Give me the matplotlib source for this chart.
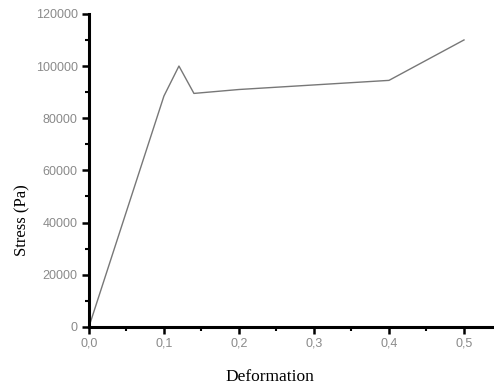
import numpy as np
import matplotlib
matplotlib.use("Agg")
import matplotlib.pyplot as plt
from matplotlib.ticker import MultipleLocator, FuncFormatter

# stress-strain curve
deformation = [0.0, 0.1, 0.12, 0.14, 0.2, 0.4, 0.5]
stress = [0, 88500, 100000, 89500, 91000, 94500, 110000]

fig = plt.figure(figsize=(4.94, 3.85), dpi=100)
ax = fig.add_axes([0.180, 0.151, 0.82, 0.813])

ax.plot(deformation, stress, color="#777777", lw=1.0)

ax.set_xlim(0, 0.54)
ax.set_ylim(0, 120000)

ax.spines["top"].set_visible(False)
ax.spines["right"].set_visible(False)
ax.spines["left"].set_linewidth(2.2)
ax.spines["bottom"].set_linewidth(2.2)

ax.xaxis.set_major_locator(MultipleLocator(0.1))
ax.xaxis.set_minor_locator(MultipleLocator(0.05))
ax.yaxis.set_major_locator(MultipleLocator(20000))
ax.yaxis.set_minor_locator(MultipleLocator(10000))
ax.xaxis.set_major_formatter(FuncFormatter(lambda v, p: f"{v:.1f}".replace(".", ",")))
ax.yaxis.set_major_formatter(FuncFormatter(lambda v, p: f"{v:.0f}"))

ax.tick_params(which="major", direction="out", length=5, width=1.8, colors="black",
               labelcolor="#8a8a8a", labelsize=9, pad=3)
ax.tick_params(which="minor", direction="out", length=3, width=1.5, colors="black")
for lab in ax.get_xticklabels() + ax.get_yticklabels():
    lab.set_family("Liberation Sans")

ax.set_xlabel("Deformation", family="Liberation Serif", fontsize=12.5)
ax.set_ylabel("Stress (Pa)", family="Liberation Serif", fontsize=12)
ax.xaxis.set_label_coords(0.447, -0.135)
ax.yaxis.set_label_coords(-0.145, 0.34)

fig.savefig("out.png", dpi=100)
